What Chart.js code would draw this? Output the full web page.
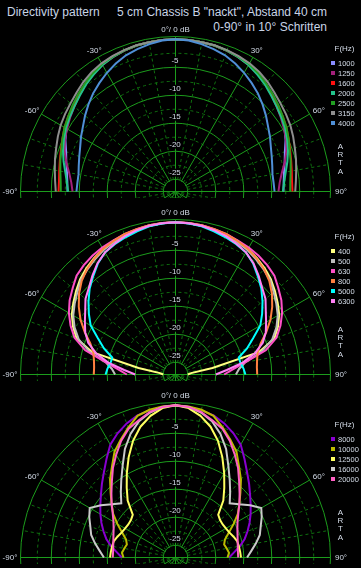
<!DOCTYPE html>
<html>
<head>
<meta charset="utf-8">
<script src="https://cdn.jsdelivr.net/npm/chart.js@4.4.0/dist/chart.umd.min.js"></script>
<style>
html,body{margin:0;padding:0;background:#000;width:361px;height:568px;overflow:hidden;position:relative}
.t{position:absolute;font:12px "Liberation Sans",Arial,sans-serif;line-height:12px;color:#c8d4e6;white-space:pre}
.w{position:absolute;left:0;width:361px;height:198px;overflow:hidden}
canvas{display:block}
</style>
</head>
<body>
<div class="t" style="left:7px;top:6px">Directivity pattern</div>
<div class="t" style="right:34px;top:6px">5 cm Chassis B "nackt", Abstand 40 cm</div>
<div class="t" style="right:34px;top:21px">0-90° in 10° Schritten</div>
<div class="w" style="top:0px"><canvas id="c1" width="361" height="384"></canvas></div>
<div class="w" style="top:183px"><canvas id="c2" width="361" height="384"></canvas></div>
<div class="w" style="top:366px"><canvas id="c3" width="361" height="384"></canvas></div>
<script>
// ---------- scales / ticks ----------
const STEP = 5;                       // angular resolution of the radar labels (deg)
const ANGLES = [0,5,10,15,20,25,30,35,40,45,50,55,60,65,70,75,80,85,90];
const RING_TICKS = [-25,-22.5,-20,-17.5,-15,-12.5,-10,-7.5,-5,-2.5,0.5];
const RING_LABELS = [-5,-10,-15,-20,-25];
const ANGLE_MARKS = [-90,-60,-30,30,60,90];
const TOP_LABEL = '0°/ 0 dB';
const DB_MIN = -27.2, DB_MAX = 0.5, DB_INNER = -25;

// ---------- panel 1 ----------
const P1_FREQ  = ['1000','1250','1600','2000','2500','3150','4000'];
const P1_COLOR = ['#8a8cff','#a3207a','#ff1010','#22c48c','#22a022','#8e8e8e','#4f8fd6'];
const P1_1000 = [0,0,-0.1,-0.2,-0.4,-0.6,-1.0,-1.5,-2.1,-2.8,-3.4,-4.0,-4.7,-5.5,-6.4,-7.0,-7.5,-7.8,-7.9];
const P1_1250 = [0,0,-0.1,-0.2,-0.4,-0.7,-1.1,-1.6,-2.2,-2.9,-3.6,-4.2,-4.8,-5.4,-6.1,-7.0,-7.9,-8.5,-8.8];
const P1_1600 = [0,0,-0.1,-0.2,-0.4,-0.6,-1.0,-1.5,-2.1,-2.7,-3.3,-3.8,-4.3,-4.9,-5.4,-5.8,-6.1,-6.3,-6.3];
const P1_2000 = [0,0,-0.1,-0.2,-0.4,-0.7,-1.1,-1.7,-2.3,-3.0,-3.6,-4.1,-4.6,-5.2,-5.8,-6.5,-7.2,-7.7,-8.0];
const P1_2500 = [0,0,-0.1,-0.2,-0.35,-0.6,-0.9,-1.4,-2.0,-2.6,-3.2,-3.8,-4.3,-4.9,-5.5,-5.9,-6.3,-6.6,-6.7];
const P1_3150 = [0,0,-0.1,-0.15,-0.3,-0.5,-0.75,-1.1,-1.6,-2.2,-2.7,-3.1,-3.5,-4.0,-4.5,-4.9,-5.3,-5.6,-5.8];
const P1_4000 = [0,-0.1,-0.45,-0.85,-1.3,-1.95,-2.7,-3.5,-4.3,-5.2,-6.1,-7.0,-7.7,-8.4,-8.9,-9.3,-9.6,-9.6,-9.5];

// ---------- panel 2 ----------
const P2_FREQ  = ['400','500','630','800','5000','6300'];
const P2_COLOR = ['#ffff80','#bdbdbd','#ff50c8','#ff8040','#00ffff','#ff80f4'];
const P2_400  = [0,-0.05,-0.2,-0.4,-0.6,-0.9,-1.3,-1.8,-2.4,-3.1,-4.0,-4.9,-5.8,-7.0,-8.4,-11.8,-20.5,-24.4,-25];
const P2_500  = [0,-0.05,-0.2,-0.45,-0.7,-1.1,-1.5,-2.1,-2.7,-3.3,-4.3,-5.2,-6.1,-7.3,-8.8,-11.2,-14.5,-15.8,-16.4];
const P2_630  = [0,0,-0.1,-0.3,-0.5,-0.8,-1.0,-1.3,-1.7,-2.2,-3.2,-4.1,-5.2,-6.5,-8.0,-10.5,-14.5,-17.0,-18.5];
const P2_800  = [0,0,-0.1,-0.3,-0.5,-0.9,-1.3,-1.9,-2.6,-3.5,-4.7,-6.1,-7.6,-9.3,-11.0,-12.0,-12.4,-12.6,-12.6];
const P2_5000 = [0,-0.1,-0.3,-0.7,-1.1,-1.5,-2.0,-3.0,-4.3,-5.5,-6.9,-8.3,-9.7,-11.9,-13.6,-15.5,-15.4,-15.0,-14.7];
const P2_6300 = [0,-0.05,-0.2,-0.5,-0.9,-1.4,-2.0,-2.9,-4.1,-5.3,-6.2,-7.5,-8.5,-9.4,-10.6,-12.5,-15.0,-18.0,-20.0];

// ---------- panel 3 ----------
const P3_FREQ  = ['8000','10000','12500','16000','20000'];
const P3_COLOR = ['#8800d0','#bcbc00','#ffff60','#cacaca','#ff60c4'];
const P3_8000  = [0,-0.2,-0.5,-0.9,-1.7,-2.7,-3.9,-5.7,-7.3,-8.6,-9.8,-10.8,-11.7,-12.6,-13.5,-14.4,-15.5,-16.7,-17.6];
const P3_10000 = [0,-0.1,-0.4,-1.0,-2.5,-4.0,-5.4,-7.4,-9.0,-10.8,-12.3,-13.6,-15.2,-16.7,-17.8,-18.2,-17.9,-17.6,-17.9];
const P3_12500 = [0,-0.4,-1.5,-3.0,-5.0,-7.4,-9.8,-12.0,-13.9,-16.4,-16.8,-16.9,-16.8,-16.6,-16.2,-15.8,-15.7,-15.6,-15.5];
const P3_16000 = [0,-0.2,-0.9,-2.0,-3.7,-5.8,-8.3,-10.3,-12.0,-13.5,-12.4,-10.9,-9.5,-10.2,-11.0,-11.6,-12.6,-13.6,-14.4];
const P3_20000 = [0,-0.2,-0.8,-1.8,-2.7,-4.2,-6.0,-7.7,-9.5,-11.0,-12.3,-13.5,-14.4,-15.0,-15.4,-15.7,-15.9,-16.0,-16.0];

// ---------- styling ----------
const SOLID = '#1c9c1c';
const DASH  = '#0f700f';
const TXT   = '#d4dce8';
const SMALL_FONT = '8px "Liberation Sans", Arial, sans-serif';
const LEG_FONT = '7.5px "Liberation Sans", Arial, sans-serif';

const N = 360 / STEP;
const LABELS = Array.from({length: N}, (_, i) => (i * STEP <= 180 ? i * STEP : i * STEP - 360));

// measured 0..90 deg, the -90..0 side is the same measurement mirrored
function mirror(vals) {
  const out = new Array(N).fill(null);
  ANGLES.forEach((a, k) => {
    out[a / STEP] = vals[k];
    if (a > 0) out[(360 - a) / STEP] = vals[k];
  });
  return out;
}
const isMajor = v => v === DB_MAX || v % 5 === 0;
const angIndex = a => (a >= 0 ? a : 360 + a) / STEP;

const halfPx = {
  id: 'halfPx',
  beforeDraw(c) { c.ctx.save(); c.ctx.translate(0.5, 0.5); },
  afterDraw(c) { c.ctx.restore(); }
};

function textPlugin(freqs, colors) {
  return {
    id: 'polarText',
    beforeDatasetsDraw(chart) {
      const s = chart.scales.r, ctx = chart.ctx, R = s.drawingArea;
      ctx.save();
      // keep the area inside the innermost ring clear of the radial lines
      const rIn = s.getDistanceFromCenterForValue(DB_INNER);
      ctx.fillStyle = '#000';
      ctx.beginPath();
      ctx.arc(s.xCenter, s.yCenter, rIn - 1, Math.PI, 2 * Math.PI);
      ctx.fill();
      ctx.strokeStyle = SOLID;
      ctx.lineWidth = 1;
      ctx.beginPath();
      ctx.moveTo(s.xCenter, s.yCenter - rIn);
      ctx.lineTo(s.xCenter, s.yCenter);
      ctx.moveTo(s.xCenter - rIn, s.yCenter);
      ctx.lineTo(s.xCenter + rIn, s.yCenter);
      ctx.stroke();

      ctx.font = SMALL_FONT;
      ctx.textAlign = 'center';
      ctx.textBaseline = 'middle';
      // ring labels with black backdrop
      RING_LABELS.forEach(v => {
        const y = s.yCenter - s.getDistanceFromCenterForValue(v) - 6.5;
        const t = String(v);
        const w = ctx.measureText(t).width;
        ctx.fillStyle = '#000';
        ctx.fillRect(s.xCenter - w / 2 - 1, y - 4, w + 2, 8);
        ctx.fillStyle = TXT;
        ctx.fillText(t, s.xCenter - 0.5, y);
      });
      // top label
      ctx.fillStyle = TXT;
      const top = s.getPointPosition(0, R + 6.5);
      ctx.fillText(TOP_LABEL, top.x, top.y);
      // angle labels
      ANGLE_MARKS.forEach(a => {
        const abs = Math.abs(a);
        const gap = abs === 30 ? 7.5 : 10.5;
        const p = s.getPointPosition(angIndex(a), R + gap);
        const dy = abs === 60 ? 2 : 0;
        ctx.fillText(a + '°', p.x, p.y + dy);
      });
      // ARTA
      'ARTA'.split('').forEach((ch, i) => {
        ctx.fillText(ch, 340, s.yCenter - 45 + i * 8.3);
      });
      ctx.restore();
    },
    afterDatasetsDraw(chart) {
      const s = chart.scales.r, ctx = chart.ctx;
      ctx.save();
      const n = freqs.length;
      const y0 = s.yCenter - 98 - (n - 1) / 2 * 10;
      ctx.font = SMALL_FONT;
      ctx.textAlign = 'center';
      ctx.textBaseline = 'middle';
      ctx.fillStyle = TXT;
      ctx.fillText('F(Hz)', 344, y0 - 14.5);
      ctx.font = LEG_FONT;
      ctx.textAlign = 'left';
      freqs.forEach((f, i) => {
        const y = y0 + i * 10;
        ctx.fillStyle = colors[i];
        ctx.fillRect(330.5, y - 2.5, 4, 4);
        ctx.fillStyle = TXT;
        ctx.fillText(f, 337.5, y);
      });
      ctx.restore();
    }
  };
}

function makePanel(id, freqs, colors, series) {
  const datasets = series.map((vals, i) => ({
    label: freqs[i],
    data: mirror(vals),
    borderColor: colors[i],
    backgroundColor: colors[i],
    borderWidth: 2,
    pointRadius: 0,
    pointHoverRadius: 0,
    fill: false,
    tension: 0,
    spanGaps: false,
    order: series.length - i
  }));
  return new Chart(document.getElementById(id), {
    type: 'radar',
    data: { labels: LABELS, datasets },
    options: {
      responsive: false,
      animation: false,
      devicePixelRatio: 1,
      layout: { padding: { left: 20, right: 31, top: 36, bottom: 38 } },
      plugins: { legend: { display: false }, tooltip: { enabled: false }, title: { display: false } },
      scales: {
        r: {
          min: DB_MIN,
          max: DB_MAX,
          startAngle: 0,
          afterBuildTicks: sc => { sc.ticks = RING_TICKS.map(v => ({ value: v })); },
          ticks: { display: false },
          pointLabels: { display: false },
          grid: {
            circular: true,
            lineWidth: 1,
            color: c => (isMajor(c.tick.value) ? SOLID : DASH)
          },
          border: {
            dash: c => (c.tick && isMajor(c.tick.value) ? [] : [3, 3])
          },
          angleLines: {
            display: true,
            lineWidth: c => (LABELS[c.index] % 10 === 0 ? 1 : 0),
            color: c => (LABELS[c.index] % 30 === 0 ? SOLID : DASH),
            borderDash: c => (LABELS[c.index] % 30 === 0 ? [] : [3, 3])
          }
        }
      }
    },
    plugins: [halfPx, textPlugin(freqs, colors)]
  });
}

makePanel('c1', P1_FREQ, P1_COLOR, [P1_1000, P1_1250, P1_1600, P1_2000, P1_2500, P1_3150, P1_4000]);
makePanel('c2', P2_FREQ, P2_COLOR, [P2_400, P2_500, P2_630, P2_800, P2_5000, P2_6300]);
makePanel('c3', P3_FREQ, P3_COLOR, [P3_8000, P3_10000, P3_12500, P3_16000, P3_20000]);
</script>
</body>
</html>
